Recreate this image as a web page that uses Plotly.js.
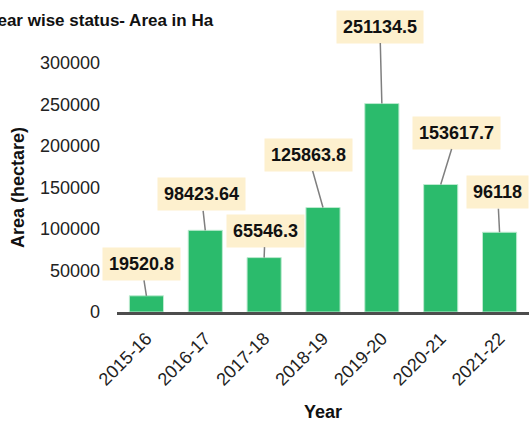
<!DOCTYPE html>
<html>
<head>
<meta charset="utf-8">
<script src="https://cdn.plot.ly/plotly-3.0.1.min.js"></script>
<style>html,body{margin:0;padding:0;background:#fff;}#chart{width:529px;height:422px;}</style>
</head>
<body>
<div id="chart"></div>
<script>
var years = ["2015-16", "2016-17", "2017-18", "2018-19", "2019-20", "2020-21", "2021-22"];
var areaHa = [19520.8, 98423.64, 65546.3, 125863.8, 251134.5, 153617.7, 96118];
var labelText = ["19520.8", "98423.64", "65546.3", "125863.8", "251134.5", "153617.7", "96118"];
var yTicks = [0, 50000, 100000, 150000, 200000, 250000, 300000];

var FONT = "Liberation Sans, Arial, sans-serif";
var labelOffsets = [[-5,-32],[-4,-36],[1,-27],[-15,-53],[-2,-77],[16,-52],[-2,-40]];

var annotations = years.map(function(y, i){
  return {
    x: y, y: areaHa[i], xref: 'x', yref: 'y',
    text: '<b>' + labelText[i] + '</b>',
    showarrow: true, arrowhead: 0, arrowwidth: 1.5, arrowcolor: '#7f7f7f',
    ax: labelOffsets[i][0], ay: labelOffsets[i][1],
    bgcolor: '#FDF0CE', borderpad: 6,
    font: {family: FONT, size: 18, color: '#111'}
  };
});

var trace = {
  type: 'bar', x: years, y: areaHa,
  marker: {color: '#2BBB6C', line: {color: '#BDEBD0', width: 1}},
  hoverinfo: 'none'
};

var layout = {
  width: 529, height: 422,
  margin: {l: 117, r: 0, t: 63, b: 110},
  paper_bgcolor: '#fff', plot_bgcolor: '#fff',
  bargap: 0.42,
  showlegend: false,
  font: {family: FONT, color: '#222'},
  title: {
    text: '<b>Year wise status- Area in Ha</b>',
    xref: 'container', x: 0.403, xanchor: 'right',
    yref: 'container', y: 0.953, yanchor: 'middle',
    font: {family: FONT, size: 17, color: '#111'}
  },
  xaxis: {
    type: 'category', range: [-0.5, 6.5],
    showline: true, linecolor: '#4d4d4d', linewidth: 3,
    showgrid: false, zeroline: false, ticks: '',
    tickangle: -45, ticklabelstandoff: 6,
    tickfont: {family: FONT, size: 18, color: '#222'},
    title: {text: '<b>Year</b>', font: {family: FONT, size: 18, color: '#111'}, standoff: 22}
  },
  yaxis: {
    range: [0, 300000], tickvals: yTicks, ticktext: yTicks.map(String),
    showline: false, showgrid: false, zeroline: false, ticks: '',
    ticklabelstandoff: 16,
    tickfont: {family: FONT, size: 18, color: '#222'},
    title: {text: '<b>Area (hectare)</b>', font: {family: FONT, size: 18, color: '#111'}, standoff: 10}
  },
  annotations: annotations
};

Plotly.newPlot('chart', [trace], layout, {staticPlot: true, displayModeBar: false});
</script>
</body>
</html>
